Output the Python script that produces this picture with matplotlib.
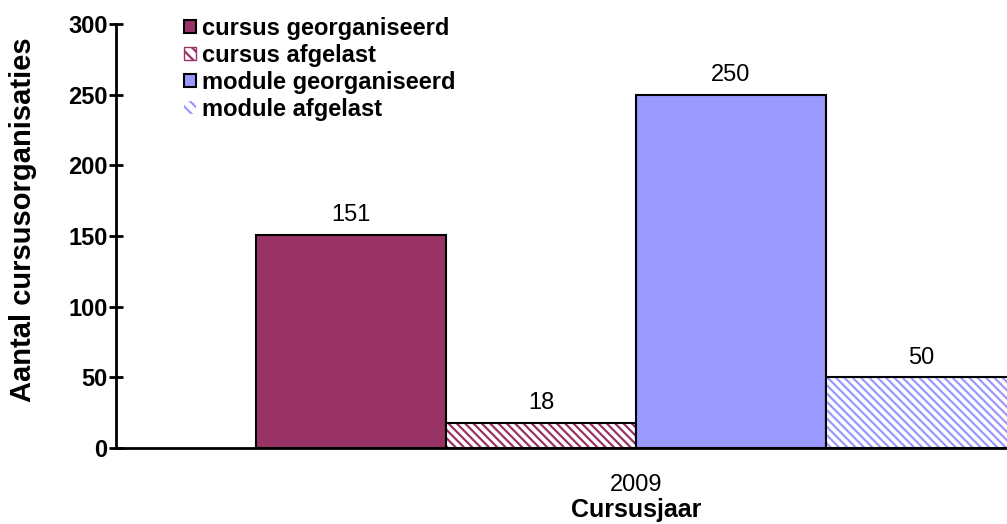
import matplotlib.pyplot as plt
from matplotlib.patches import Patch

plt.rcParams['font.family'] = ['Liberation Sans', 'DejaVu Sans']
plt.rcParams['hatch.linewidth'] = 1.6

labels = ['cursus georganiseerd', 'cursus afgelast', 'module georganiseerd', 'module afgelast']
values = [151, 18, 250, 50]
colors = ['#993366', '#993366', '#9999FF', '#9999FF']
hatched = [False, True, False, True]
year = '2009'

fig = plt.figure(figsize=(10.07, 5.24), dpi=100)
ax = fig.add_axes([116 / 1007, 76 / 524, 1 - 116 / 1007, 424 / 524])

offsets = [-1.5, -0.5, 0.5, 1.5]
for off, v, c, h in zip(offsets, values, colors, hatched):
    if h:
        ax.bar(off, v, width=1, color='white', edgecolor=c, hatch='\\\\\\\\', linewidth=0)
        ax.bar(off, v, width=1, fill=False, edgecolor='black', linewidth=1.5)
    else:
        ax.bar(off, v, width=1, color=c, edgecolor='black', linewidth=1.5)
    ax.text(off, v + 6, str(v), ha='center', va='bottom', fontsize=17)

ax.set_xlim(-2.737, 1.953)
ax.set_ylim(0, 300)
ax.set_yticks(range(0, 301, 50))
ax.set_xticks([0])
ax.set_xticklabels([year], fontsize=17)
ax.set_xlabel('Cursusjaar', fontsize=18, fontweight='bold')
ax.xaxis.set_label_coords(0.5836, -0.118)
ax.set_ylabel('Aantal cursusorganisaties', fontsize=21, fontweight='bold')
ax.yaxis.set_label_coords(-0.089, 0.538)

for s in ['top', 'right']:
    ax.spines[s].set_visible(False)
ax.spines['left'].set_linewidth(2)
ax.spines['bottom'].set_linewidth(2)
ax.spines['left'].set_zorder(5)
ax.spines['bottom'].set_zorder(5)
ax.tick_params(axis='y', direction='inout', length=10, width=2, labelsize=17, pad=1)
ax.tick_params(axis='x', length=0, pad=19)
for t in ax.get_yticklabels():
    t.set_fontweight('bold')

handles = [
    Patch(facecolor='#993366', edgecolor='black', linewidth=1.5),
    Patch(facecolor='white', edgecolor='#993366', hatch='\\\\\\'),
    Patch(facecolor='#9999FF', edgecolor='black', linewidth=1.5),
    Patch(facecolor='white', edgecolor='#9999FF', hatch='\\\\\\', linewidth=0),
]
leg = ax.legend(handles, labels, loc='upper left', bbox_to_anchor=(0.058, 1.056),
                frameon=False, prop={'weight': 'bold', 'size': 17},
                handlelength=0.5, handleheight=0.5, handletextpad=0.25, labelspacing=0.17,
                borderpad=0.2)

fig.savefig('out.png', dpi=100)
